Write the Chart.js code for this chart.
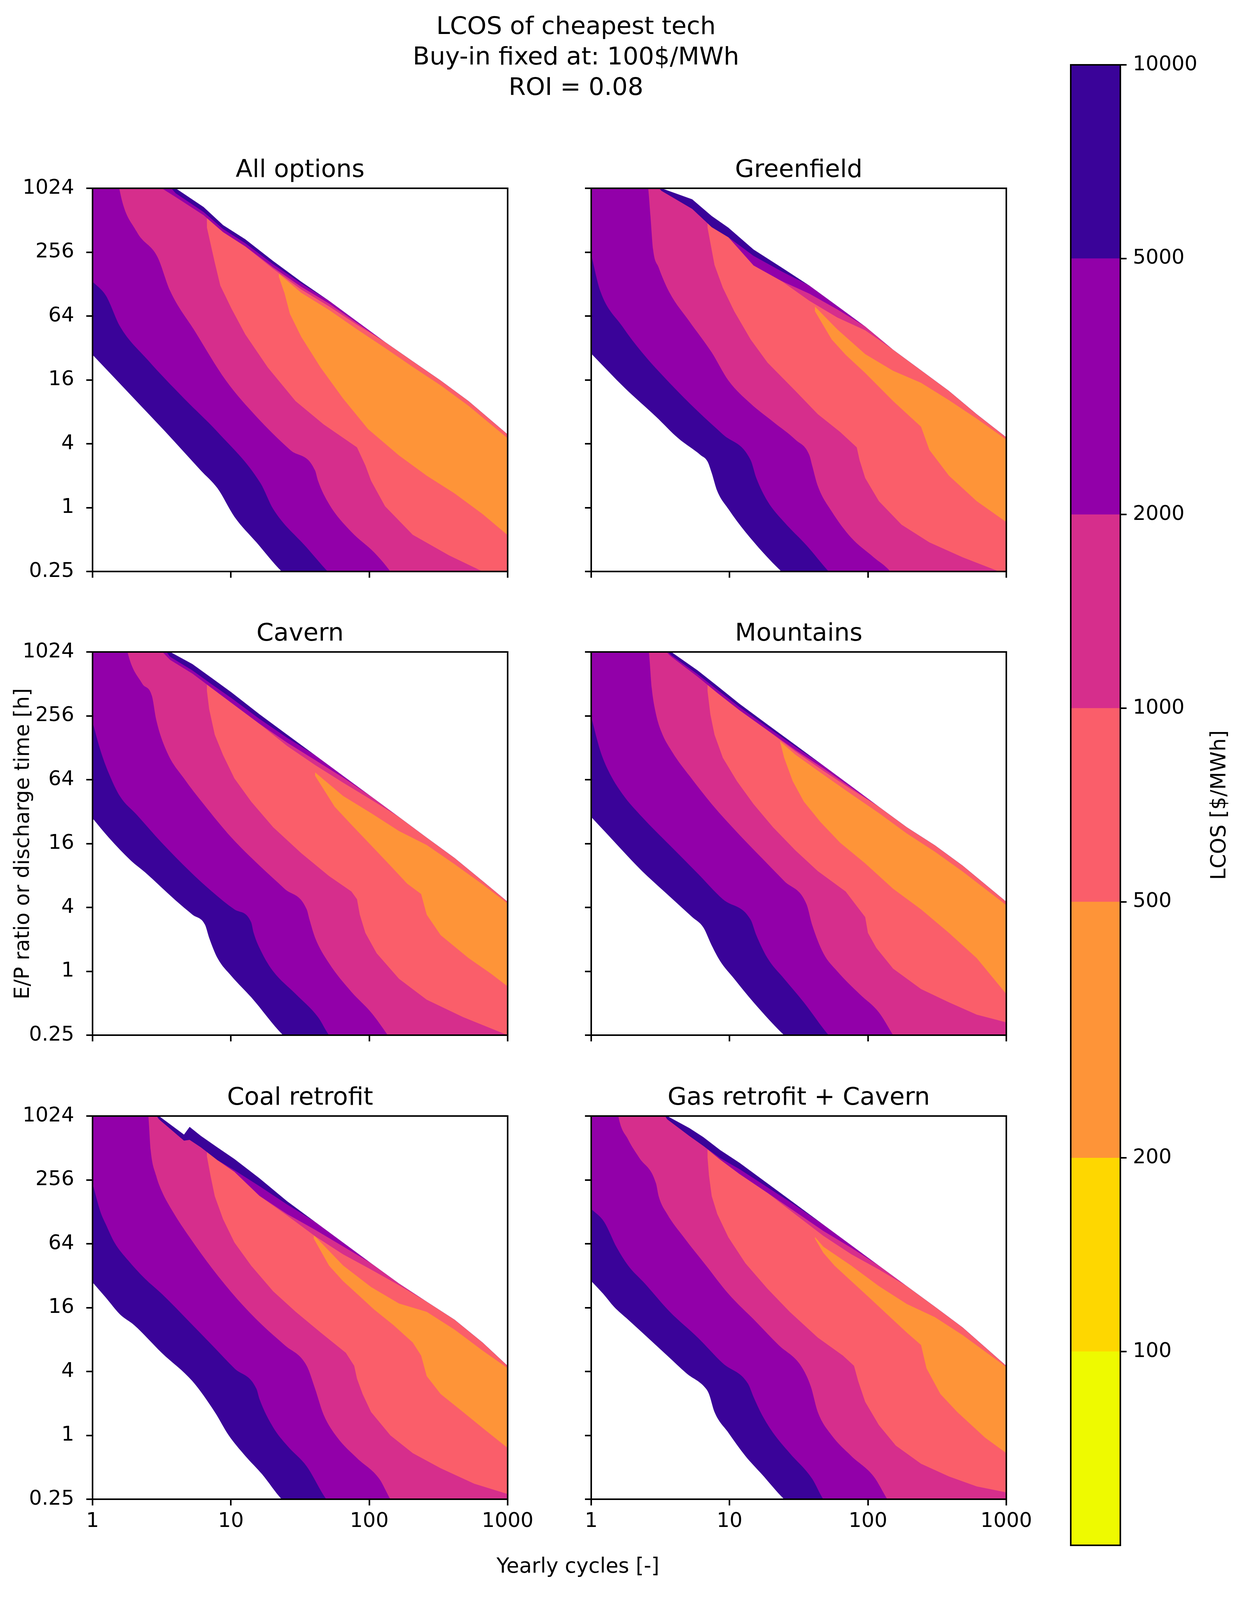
<!DOCTYPE html>
<html lang="en">
<head>
<meta charset="utf-8">
<title>LCOS of cheapest tech</title>
<script src="https://cdn.jsdelivr.net/npm/chart.js@4.4.1/dist/chart.umd.min.js"></script>
<style>
  html, body { margin: 0; padding: 0; background: #ffffff; }
  #page { position: relative; width: 3178px; height: 4096px; overflow: hidden; font-family: 'DejaVu Sans', sans-serif; color: #000; }
  #page canvas { position: absolute; }
  .txt { position: absolute; white-space: nowrap; text-align: center; }
  #suptitle { left: 475px; top: 27px; width: 2000px; font-size: 63px; line-height: 78px; }
  #xlabel { left: 980px; top: 3976px; width: 1000px; font-size: 53px; line-height: 64px; }
  #ylabel { left: -544px; top: 2128px; width: 1200px; font-size: 53px; line-height: 64px; transform: rotate(-90deg); }
  #cblabel { left: 2620px; top: 2029px; width: 1000px; font-size: 53px; line-height: 64px; transform: rotate(-90deg); }
</style>
</head>
<body>
<div id="page">
  <div class="txt" id="suptitle">LCOS of cheapest tech<br>Buy-in fixed at: 100$/MWh<br>ROI = 0.08</div>
  <div class="txt" id="xlabel">Yearly cycles [-]</div>
  <div class="txt" id="ylabel">E/P ratio or discharge time [h]</div>
  <div class="txt" id="cblabel">LCOS [$/MWh]</div>
</div>
<script>
// ---- axes and colour levels ----
const xTicks = [1, 10, 100, 1000];
const xTickLabels = ['1', '10', '100', '1000'];
const yTicks = [0.25, 1, 4, 16, 64, 256, 1024];
const yTickLabels = ['0.25', '1', '4', '16', '64', '256', '1024'];
const levels = [50, 100, 200, 500, 1000, 2000, 5000, 10000];
const levelTicks = [100, 200, 500, 1000, 2000, 5000, 10000];
const levelTickLabels = ['100', '200', '500', '1000', '2000', '5000', '10000'];
// one colour per band, lowest LCOS first
const bandColors = ['#eefa00', '#fed700', '#fe9438', '#fa5e6a', '#d62e8c', '#9200a9', '#3a0399'];
const panelTitles = ['All options', 'Greenfield', 'Cavern', 'Mountains', 'Coal retrofit', 'Gas retrofit + Cavern'];

// Lower-left boundaries [cycles, hours], one list per level:
// 10000/5000, 5000/2000, 2000/1000, 1000/500, 500/200 (values off the axis just mean "outside").
// Edge lists: the data edge at the top right and the thin bands along it,
// outer first: data edge, navy, purple, magenta, salmon lower sides.

// All options
const allOptionsLower = [
  [[1,27.6],[1.99,10.7],[3.31,5.3],[6.06,2.24],[8,1.52],[10.6,0.82],[15.3,0.47],[23.3,0.25],[1000,0.005]],
  [[1,135],[1.25,99.5],[1.58,51],[2.51,24.6],[4.58,10.7],[8,5.17],[16.4,1.69],[20.2,0.97],[35.3,0.42],[50,0.25],[1000,0.005]],
  [[1,1e5],[1.56,1024],[2.08,401],[2.95,230],[3.63,111],[5.52,45.5],[9.2,15.8],[15.3,7.2],[26.8,3.5],[40.6,2.24],[42.6,1.79],[51.2,1.08],[74.3,0.59],[108,0.38],[142,0.25],[1000,0.005]],
  [[1,1e5],[6.6,1e5],[6.71,436],[7.64,205],[8.38,124],[10.1,75],[12.7,43],[18.5,20.9],[29.3,10.1],[46.7,6.1],[81.5,3.7],[93.7,2.5],[103,1.79],[130,1.03],[206,0.555],[377,0.355],[659,0.25],[1000,0.15]],
  [[1,1e5],[22,1e5],[22.2,150],[24.4,105],[26.7,67],[32.2,40.8],[44.6,20.8],[64.6,10.7],[98,5.5],[164,3.1],[260,2],[414,1.36],[659,0.87],[1000,0.55]]
];
const allOptionsEdgeX = [1, 3.16, 3.99, 6.35, 8.78, 12.7, 20.2, 32.2, 51.2, 81.5, 130, 206, 328, 522, 1000];
const allOptionsEdge = [
  [1e5, 1400, 1024, 681, 461, 339, 211, 135, 89, 57, 36.4, 24, 15.8, 10.1, 4.9],
  [1e5, 1290, 920, 612, 423, 311, 197, 130, 89, 57, 36.4, 24, 15.8, 10.1, 4.9],
  [1e5, 1024, 846, 571, 395, 290, 184, 121, 84, 55, 36.4, 24, 15.8, 10.1, 4.9],
  [1e5, 1024, 846, 571, 395, 290, 178, 114, 79, 53, 36.4, 24, 15.8, 10.1, 4.9],
  [1e5, 1024, 846, 571, 395, 290, 178, 106, 73, 48, 32, 21.2, 14.2, 9.1, 4.5]
];

// Greenfield
const greenfieldLower = [
  [[1,28.3],[1.76,13.3],[2.94,7.2],[4.26,4.5],[6.17,3.13],[6.93,2.72],[7.43,2.12],[8.15,1.43],[9.8,0.97],[13,0.59],[23.7,0.25],[1000,0.005]],
  [[1,243],[1.16,111],[1.68,51],[2.33,29],[3.7,14.9],[5.89,8.1],[8.94,4.9],[14.2,2.8],[15.6,1.9],[18.8,1.15],[24.8,0.73],[36,0.44],[52,0.25],[1000,0.005]],
  [[1,1e5],[2.58,1024],[2.68,561],[2.8,271],[3.07,184],[3.7,105],[5.12,57],[7.43,29],[9.8,15.8],[14.2,9.55],[20.6,6.46],[29.9,4.37],[37.7,3.13],[39.5,2.5],[43.4,1.6],[54.7,0.92],[75.7,0.52],[110,0.34],[145,0.25],[1000,0.005]],
  [[1,1e5],[6.8,1e5],[6.93,436],[7.78,194],[8.94,118],[10.8,71],[14.2,38.5],[18.8,23.3],[29.9,12.6],[43.4,7.6],[62.9,5.17],[83,3.7],[87,2.8],[95.5,1.9],[120,1.15],[175,0.69],[278,0.47],[484,0.34],[887,0.25],[1000,0.22]],
  [[1,1e5],[41,1e5],[41.4,71],[54.7,38.5],[69,27.6],[95.5,18.6],[152,10.1],[242,5.78],[278,3.5],[385,2],[611,1.15],[1000,0.73]]
];
const greenfieldEdgeX = [1, 2.74, 3.22, 5.37, 7.43, 9.8, 14.9, 23.7, 37.7, 60, 95.5, 152, 242, 385, 611, 1000];
const greenfieldEdge = [
  [1e5, 1300, 1024, 806, 561, 436, 271, 184, 124, 79.6, 51, 30.8, 19.7, 12.6, 7.6, 4.6],
  [1e5, 1200, 970, 655, 440, 354, 236, 169, 124, 79.6, 51, 30.8, 19.7, 12.6, 7.6, 4.6],
  [1e5, 1200, 970, 655, 440, 354, 192, 137, 104, 74, 51, 30.8, 19.7, 12.6, 7.6, 4.6],
  [1e5, 1200, 970, 655, 440, 354, 192, 137, 89, 62, 47, 30.8, 19.7, 12.6, 7.6, 4.6],
  [1e5, 1200, 970, 655, 440, 354, 192, 137, 89, 48, 28, 19.5, 15, 10.3, 6.9, 4.37]
];

// Cavern
const cavernLower = [
  [[1,27.7],[1.31,18.2],[1.9,11],[2.39,8.6],[3.99,4.65],[5.27,3.42],[6.5,2.74],[6.96,2.07],[8,1.33],[10.1,0.9],[14,0.57],[23.8,0.25],[1000,0.005]],
  [[1,224],[1.14,121],[1.31,73.6],[1.58,44.5],[2.08,30],[3.16,16.3],[5.03,8.8],[7.29,5.65],[10.6,3.83],[14,2.9],[14.6,2.3],[16.8,1.48],[20.2,1],[29.4,0.61],[42.6,0.37],[51.2,0.25],[1000,0.005]],
  [[1,1e5],[1.79,1024],[2.28,518],[2.69,392],[2.88,237],[3.47,115],[4.58,65.8],[6.35,37.7],[10.1,18.2],[16.1,9.9],[24.4,6],[35.3,3.83],[37,3.06],[40.6,2.07],[51.2,1.19],[74.3,0.64],[103,0.41],[136,0.25],[1000,0.005]],
  [[1,1e5],[6.6,1e5],[6.71,439],[6.96,297],[7.64,170],[8.78,109],[10.6,65.8],[14,39.8],[20.2,22.8],[32.2,13],[51.2,7.9],[74.3,5.65],[81.5,4.78],[85.4,3.42],[93.7,2.3],[113,1.48],[164,0.85],[260,0.54],[476,0.37],[1000,0.25]],
  [[1,1e5],[40.3,1e5],[40.6,69.6],[56.2,35.6],[74.3,24.1],[103,15.4],[142,9.9],[188,6.7],[237,5.35],[260,3.42],[328,2.19],[522,1.33],[757,0.95],[1000,0.72]]
];
const cavernEdgeX = [1, 3.2, 3.64, 5.27, 7.29, 10.1, 16.1, 25.5, 40.6, 64.6, 103, 164, 260, 414, 659, 1000];
const cavernEdge = [
  [1e5, 1300, 1024, 788, 580, 426, 265, 170, 109, 69.6, 44.5, 28.5, 18.2, 11.7, 7.1, 4.52],
  [1e5, 1150, 922, 686, 505, 376, 239, 159, 109, 69.6, 44.5, 28.5, 18.2, 11.7, 7.1, 4.52],
  [1e5, 1024, 860, 640, 465, 339, 215, 143, 98, 67, 44.5, 28.5, 18.2, 11.7, 7.1, 4.52],
  [1e5, 1024, 860, 640, 465, 339, 215, 133, 88, 60, 41.5, 28.5, 18.2, 11.7, 7.1, 4.52],
  [1e5, 1024, 860, 640, 465, 339, 215, 133, 75, 45, 31, 21, 15.5, 10.2, 6.6, 4.35]
];

// Mountains
const mountainsLower = [
  [[1,28.5],[1.27,20.4],[1.61,14.6],[2.33,8.8],[3.37,5.65],[5.37,3.24],[6.46,2.59],[7.43,1.75],[8.54,1.25],[10.8,0.85],[14.9,0.51],[24.8,0.25],[1000,0.005]],
  [[1,251],[1.16,121],[1.33,77.8],[1.68,47],[2.33,28.5],[3.7,15.4],[5.89,8.35],[8.94,4.78],[14.2,3.06],[15.6,2.19],[18.8,1.33],[24.8,0.85],[34.4,0.51],[52,0.25],[1000,0.005]],
  [[1,1e5],[2.61,1024],[2.74,463],[2.94,265],[3.22,180],[3.88,115],[5.13,69.6],[7.43,37.7],[11.8,19.3],[17.1,11.7],[24.8,7.1],[36,4.28],[39.5,2.74],[47.6,1.48],[60,1],[87,0.61],[120,0.41],[152,0.25],[1000,0.005]],
  [[1,1e5],[6.8,1e5],[6.93,439],[7.26,265],[7.78,170],[8.94,103],[11.3,62],[14.9,37.7],[20.6,22.8],[29.9,13.8],[43.4,8.8],[69,5.65],[95.5,3.24],[100,2.3],[115,1.66],[152,1.06],[242,0.68],[385,0.51],[611,0.39],[1000,0.33]],
  [[1,1e5],[23,1e5],[23.2,145],[24.8,103],[28.6,62],[34.4,39.8],[45.4,25.5],[62.9,16.3],[95.5,10.4],[152,6],[242,3.83],[385,2.3],[611,1.33],[1000,0.61]]
];
const mountainsEdgeX = [1, 3.3, 3.79, 5.89, 8.15, 11.8, 18.8, 29.9, 47.6, 75.7, 120, 191, 305, 484, 1000];
const mountainsEdge = [
  [1e5, 1300, 1024, 685, 490, 332, 212, 136, 87, 55.7, 35.6, 22.8, 15.4, 9.9, 4.52],
  [1e5, 1150, 955, 630, 451, 310, 200, 131, 87, 55.7, 35.6, 22.8, 15.4, 9.9, 4.52],
  [1e5, 1100, 923, 597, 421, 289, 187, 122, 82, 53.8, 35.6, 22.8, 15.4, 9.9, 4.52],
  [1e5, 1100, 923, 597, 421, 289, 187, 118, 77.6, 52, 35.6, 22.8, 15.4, 9.9, 4.52],
  [1e5, 1100, 923, 597, 421, 289, 187, 110, 71.4, 46.8, 31, 19.9, 13.4, 8.7, 4.2]
];

// Coal retrofit
const coalLower = [
  [[1,27.7],[1.25,19.8],[1.58,13.8],[1.99,11],[3.16,6],[5.27,3.24],[7.64,1.66],[9.64,1],[12.7,0.64],[16.8,0.43],[23.3,0.25],[1000,0.005]],
  [[1,237],[1.14,128],[1.25,97],[1.44,65.8],[1.81,44.5],[2.39,30],[3.16,21.6],[5.03,11.7],[7.29,7.1],[10.6,4.28],[15.3,2.74],[16.1,2.19],[20.2,1.19],[25.5,0.8],[35.3,0.51],[49,0.25],[1000,0.005]],
  [[1,1e5],[2.53,1024],[2.63,490],[2.88,281],[3.16,201],[3.81,128],[5.03,73.6],[7.29,37.7],[11.1,19.3],[16.8,11],[24.4,7.1],[35.3,4.52],[40.6,2.74],[46.7,1.57],[58.9,0.95],[81.5,0.61],[118,0.39],[142,0.25],[1000,0.005]],
  [[1,1e5],[6.6,1e5],[6.71,426],[7.12,281],[7.64,180],[8.78,109],[10.6,65.8],[14,39.8],[20.2,22.8],[29.4,14.6],[44.6,9.3],[67.7,6],[77.8,4.52],[81.5,3.42],[89.5,2.45],[103,1.66],[142,1],[206,0.68],[328,0.49],[573,0.35],[1000,0.28]],
  [[1,1e5],[39.4,1e5],[39.7,71.6],[51.2,39.8],[64.6,28.5],[81.5,21.6],[108,15.4],[149,11],[206,7.5],[237,5.65],[260,3.62],[328,2.45],[476,1.66],[690,1.12],[1000,0.76]]
];
const coalEdgeX = [1, 2.8, 3.02, 4.58, 5.03, 6.06, 8, 10.6, 16.1, 25.5, 40.6, 64.6, 103, 164, 260, 414, 659, 1000];
const coalEdge = [
  [1e5, 1200, 1024, 685, 810, 666, 518, 403, 265, 161, 103, 65.8, 42, 27, 18.2, 12.3, 7.5, 4.52],
  [1e5, 1100, 955, 600, 610, 520, 393, 316, 223, 150, 103, 65.8, 42, 27, 18.2, 12.3, 7.5, 4.52],
  [1e5, 1100, 955, 600, 610, 520, 393, 305, 181, 122, 86.6, 60.5, 42, 27, 18.2, 12.3, 7.5, 4.52],
  [1e5, 1100, 955, 600, 610, 520, 393, 305, 181, 118, 75.4, 50.9, 36.6, 26, 18.2, 12.3, 7.5, 4.52],
  [1e5, 1100, 955, 600, 610, 520, 393, 305, 181, 118, 75, 40, 25, 17.5, 14.6, 9.9, 6.3, 4.3]
];

// Gas retrofit + Cavern
const gasLower = [
  [[1,28.5],[1.22,21.6],[1.46,16.3],[1.85,12.3],[2.68,7.9],[3.54,5.65],[4.89,3.83],[6.77,2.74],[7.1,2.45],[7.78,1.66],[9.8,1.06],[13,0.64],[17.1,0.43],[24.8,0.25],[1000,0.005]],
  [[1,136],[1.24,103],[1.53,58.9],[1.85,39.8],[2.44,27],[3.7,14.6],[5.89,8.35],[8.94,4.78],[13.6,3.06],[14.9,2.3],[17.1,1.57],[20.6,1.06],[27.2,0.68],[39.5,0.39],[47.6,0.25],[1000,0.005]],
  [[1,1e5],[1.57,1024],[1.85,613],[2.22,415],[2.94,237],[3.07,180],[3.54,122],[4.67,73.6],[6.77,39.8],[9.8,21.6],[15.6,11.7],[22.6,7.1],[32.8,4.52],[38.6,2.9],[43.4,1.66],[54.7,1],[75.7,0.64],[110,0.41],[138,0.25],[1000,0.005]],
  [[1,1e5],[6.8,1e5],[6.93,415],[7.1,281],[7.43,180],[8.15,122],[9.8,73.6],[13,42],[18.8,24.1],[27.2,14.6],[43.4,8.35],[65.9,5.65],[79.3,4.52],[85,3.24],[95.5,2.07],[120,1.25],[159,0.8],[242,0.54],[385,0.41],[611,0.33],[1000,0.29]],
  [[1,1e5],[41.1,1e5],[41.4,71.6],[47.6,52.6],[57.3,39.8],[75.7,28.5],[100,20.4],[138,13.8],[191,9.3],[242,7.1],[265,4.28],[334,2.45],[442,1.66],[703,0.95],[1000,0.68]]
];
const gasEdgeX = [1, 3.3, 3.54, 5.13, 6.46, 8.54, 11.8, 18.8, 29.9, 47.6, 75.7, 120, 191, 305, 484, 1000];
const gasEdge = [
  [1e5, 1150, 1024, 788, 648, 490, 371, 237, 152, 97, 62, 39.8, 25.5, 16.3, 10.4, 4.52],
  [1e5, 1100, 955, 663, 535, 412, 323, 218, 147, 97, 62, 39.8, 25.5, 16.3, 10.4, 4.52],
  [1e5, 1100, 955, 663, 535, 398, 291, 193, 128, 84.4, 58.7, 39.8, 25.5, 16.3, 10.4, 4.52],
  [1e5, 1100, 955, 663, 535, 398, 291, 193, 121, 76, 51, 36.6, 25.5, 16.3, 10.4, 4.52],
  [1e5, 1100, 955, 663, 535, 398, 291, 193, 121, 60, 39.8, 25.5, 17.3, 13, 8.8, 4.4]
];

const panelLower = [allOptionsLower, greenfieldLower, cavernLower, mountainsLower, coalLower, gasLower];
const panelEdgeX = [allOptionsEdgeX, greenfieldEdgeX, cavernEdgeX, mountainsEdgeX, coalEdgeX, gasEdgeX];
const panelEdge = [allOptionsEdge, greenfieldEdge, cavernEdge, mountainsEdge, coalEdge, gasEdge];

// ---- layout (page pixels) ----
// The browser viewport is 4096 px tall, so the figure's vertical positions are
// mapped from the 4324 px original into that height.
const SY = 4096 / 4324;
const FONT = "'DejaVu Sans', sans-serif";
Chart.defaults.font.family = FONT;
Chart.defaults.font.size = 52;
Chart.defaults.color = '#000';

const PANEL_W = 1063;
const PANEL_H = Math.round(1036 * SY);
const colLeft = [237, 1514];
const rowTop = [509, 1762, 3016].map(v => Math.round(v * SY));
const AX = 210, TB = 100, RM = 90, XB = 120;

function addCanvas(left, top, width, height) {
    const c = document.createElement('canvas');
    c.width = width;
    c.height = height;
    c.style.left = left + 'px';
    c.style.top = top + 'px';
    c.style.width = width + 'px';
    c.style.height = height + 'px';
    document.getElementById('page').appendChild(c);
    return c;
}

// Panel title, centred over the plot area (matplotlib style)
const panelTitlePlugin = {
    id: 'panelTitle',
    afterDraw(chart, args, options) {
        const { ctx, chartArea } = chart;
        ctx.save();
        ctx.font = '63px ' + FONT;
        ctx.fillStyle = '#000';
        ctx.textAlign = 'center';
        ctx.textBaseline = 'alphabetic';
        ctx.fillText(options.text, (chartArea.left + chartArea.right) / 2, chartArea.top - 29);
        ctx.restore();
    }
};

// Black box round the plot area
const framePlugin = {
    id: 'frame',
    afterDraw(chart, args, options) {
        const { ctx, chartArea: a } = chart;
        ctx.save();
        ctx.strokeStyle = '#000';
        ctx.lineWidth = options.width || 4;
        ctx.strokeRect(a.left, a.top, a.right - a.left, a.bottom - a.top);
        ctx.restore();
    }
};

// Each boundary is filled up to the top of the plot; dataset 0 is painted last,
// so the order below goes from the outer data edge back to the lower-left band.
// The three lower-left curves are smoothed; the ones that start at the edge stay straight.
function buildDatasets(lower, edgeX, edge) {
    const sets = [];
    edge.forEach((vals, k) => {
        sets.push({
            data: edgeX.map((x, i) => ({ x: x, y: vals[i] })),
            backgroundColor: k === 0 ? '#ffffff' : bandColors[7 - k],
            cubicInterpolationMode: 'default',
            fill: 'end'
        });
    });
    for (let k = lower.length - 1; k >= 0; k--) {
        sets.push({
            data: lower[k].map(p => ({ x: p[0], y: p[1] })),
            backgroundColor: bandColors[6 - k],
            cubicInterpolationMode: k < 3 ? 'monotone' : 'default',
            fill: 'end'
        });
    }
    return sets;
}

const tickGrid = { display: true, drawOnChartArea: false, drawTicks: true, tickLength: 16, color: '#000', lineWidth: 4 };

panelTitles.forEach((title, p) => {
    const col = p % 2;
    const row = Math.floor(p / 2);
    const L = colLeft[col];
    const T = rowTop[row];
    const showX = row === rowTop.length - 1;
    const showY = col === 0;
    const canvas = addCanvas(L - AX, T - TB, AX + PANEL_W + RM, TB + PANEL_H + XB);

    new Chart(canvas, {
        type: 'line',
        data: { datasets: buildDatasets(panelLower[p], panelEdgeX[p], panelEdge[p]) },
        options: {
            responsive: false,
            animation: false,
            events: [],
            layout: { autoPadding: false, padding: { top: TB, right: RM, left: 0, bottom: 0 } },
            elements: {
                point: { radius: 0, hoverRadius: 0, borderWidth: 0 },
                line: {
                    borderWidth: 0,
                    borderColor: 'rgba(0,0,0,0)',
                    tension: 0,
                    capBezierPoints: false
                }
            },
            plugins: {
                legend: { display: false },
                tooltip: { enabled: false },
                panelTitle: { text: title },
                frame: { width: 4 }
            },
            scales: {
                x: {
                    type: 'logarithmic',
                    min: 1,
                    max: 1000,
                    bounds: 'data',
                    afterBuildTicks: s => { s.ticks = xTicks.map(v => ({ value: v })); },
                    afterFit: s => { s.height = XB; s.paddingLeft = 0; s.paddingRight = 0; },
                    grid: tickGrid,
                    border: { display: false },
                    ticks: {
                        autoSkip: false,
                        maxRotation: 0,
                        minRotation: 0,
                        padding: 10,
                        callback: (v, i) => showX ? xTickLabels[i] : ''
                    }
                },
                y: {
                    type: 'logarithmic',
                    min: 0.25,
                    max: 1024,
                    bounds: 'data',
                    afterBuildTicks: s => { s.ticks = yTicks.map(v => ({ value: v })); },
                    afterFit: s => { s.width = AX; s.paddingTop = 0; s.paddingBottom = 0; },
                    grid: tickGrid,
                    border: { display: false },
                    ticks: {
                        autoSkip: false,
                        padding: 31,
                        callback: (v, i) => showY ? yTickLabels[i] : ''
                    }
                }
            }
        },
        plugins: [panelTitlePlugin, framePlugin]
    });
});

// ---- colour bar ----
const CB_LEFT = 2742, CB_W = 127;
const CB_TOP = Math.round(175 * SY), CB_H = Math.round(4001 * SY);
const cbCanvas = addCanvas(CB_LEFT - 20, CB_TOP - 50, 20 + CB_W + 260, 50 + CB_H + 50);

new Chart(cbCanvas, {
    type: 'bar',
    data: {
        labels: [''],
        datasets: bandColors.map((c, i) => ({
            data: [[levels[i], levels[i + 1]]],
            backgroundColor: c,
            borderWidth: 0,
            grouped: false,
            barPercentage: 1,
            categoryPercentage: 1
        }))
    },
    options: {
        responsive: false,
        animation: false,
        events: [],
        layout: { autoPadding: false, padding: { left: 20, top: 50, bottom: 50, right: 0 } },
        plugins: {
            legend: { display: false },
            tooltip: { enabled: false },
            frame: { width: 4 }
        },
        scales: {
            x: { display: false },
            y: {
                type: 'logarithmic',
                position: 'right',
                min: 50,
                max: 10000,
                bounds: 'data',
                afterBuildTicks: s => { s.ticks = levelTicks.map(v => ({ value: v })); },
                afterFit: s => { s.width = 260; s.paddingTop = 0; s.paddingBottom = 0; },
                grid: tickGrid,
                border: { display: false },
                ticks: {
                    autoSkip: false,
                    padding: 16,
                    callback: (v, i) => levelTickLabels[i]
                }
            }
        }
    },
    plugins: [framePlugin]
});
</script>
</body>
</html>
